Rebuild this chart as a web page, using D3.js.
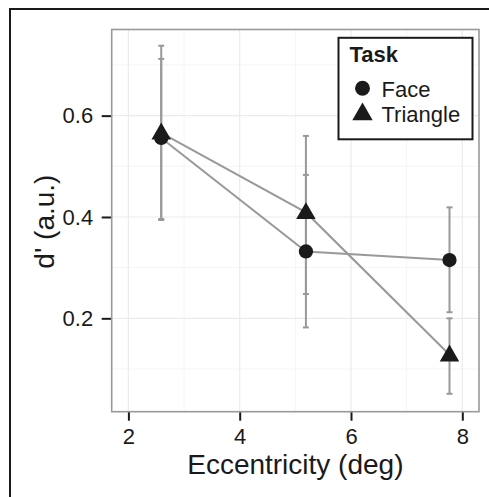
<!DOCTYPE html>
<html>
<head>
<meta charset="utf-8">
<script src="https://cdn.jsdelivr.net/npm/d3@7"></script>
<style>
  body { margin: 0; background: #fff; }
  svg text { font-family: "Liberation Sans", Arial, sans-serif; }
</style>
</head>
<body>
<div id="chart"></div>
<script>
// data
const tasks = ["Face", "Triangle"];
const eccentricity = [2.59, 5.19, 7.77];
const faceMean = [0.556, 0.332, 0.315];
const faceLow = [0.396, 0.182, 0.212];
const faceHigh = [0.712, 0.483, 0.419];
const triMean = [0.566, 0.409, 0.128];
const triLow = [0.394, 0.248, 0.051];
const triHigh = [0.738, 0.560, 0.200];
const xTicks = [2, 4, 6, 8];
const yTicks = [0.2, 0.4, 0.6];
const xMinor = [3, 5, 7];
const yMinor = [0.1, 0.3, 0.5, 0.7];

const W = 489, H = 497;
const margin = { top: 29.5, right: 10, bottom: 85.3, left: 111.7 },
  width = W - margin.left - margin.right,
  height = H - margin.top - margin.bottom;

const root = d3.select("#chart")
  .append("svg")
  .attr("width", W)
  .attr("height", H);

// outer frame (only top and left edges visible in the crop)
root.append("path")
  .attr("d", `M10,${H} L10,9 L${W},9`)
  .attr("fill", "none")
  .attr("stroke", "#1a1a1a")
  .attr("stroke-width", 2);

const svg = root.append("g")
  .attr("transform", `translate(${margin.left}, ${margin.top})`);

const x = d3.scaleLinear().domain([1.7, 8.3]).range([0, width]);
const y = d3.scaleLinear().domain([0.0157, 0.770]).range([height, 0]);

// grid
svg.selectAll(".gxm").data(xMinor).join("line")
  .attr("x1", d => x(d)).attr("x2", d => x(d))
  .attr("y1", 0).attr("y2", height)
  .attr("stroke", "#f5f5f5").attr("stroke-width", 1);
svg.selectAll(".gym").data(yMinor).join("line")
  .attr("y1", d => y(d)).attr("y2", d => y(d))
  .attr("x1", 0).attr("x2", width)
  .attr("stroke", "#f5f5f5").attr("stroke-width", 1);
svg.selectAll(".gx").data(xTicks).join("line")
  .attr("x1", d => x(d)).attr("x2", d => x(d))
  .attr("y1", 0).attr("y2", height)
  .attr("stroke", "#ebebeb").attr("stroke-width", 1.2);
svg.selectAll(".gy").data(yTicks).join("line")
  .attr("y1", d => y(d)).attr("y2", d => y(d))
  .attr("x1", 0).attr("x2", width)
  .attr("stroke", "#ebebeb").attr("stroke-width", 1.2);

// axes
const xAxis = svg.append("g")
  .attr("transform", `translate(0, ${height})`)
  .call(d3.axisBottom(x).tickValues(xTicks).tickFormat(d3.format("d")).tickSize(9).tickPadding(7.5));
const yAxis = svg.append("g")
  .call(d3.axisLeft(y).tickValues(yTicks).tickFormat(d3.format(".1f")).tickSize(10).tickPadding(8.5));
[xAxis, yAxis].forEach(a => {
  a.select(".domain").remove();
  a.selectAll(".tick line").attr("stroke", "#1a1a1a").attr("stroke-width", 2);
  a.selectAll(".tick text").attr("fill", "#1a1a1a").style("font-size", "22px");
});

// panel border
svg.append("rect")
  .attr("width", width).attr("height", height)
  .attr("fill", "none").attr("stroke", "#999").attr("stroke-width", 1.6);

// axis titles
svg.append("text")
  .attr("x", width / 2).attr("y", height + 62.5)
  .attr("text-anchor", "middle")
  .attr("fill", "#1a1a1a")
  .style("font-size", "28px")
  .text("Eccentricity (deg)");
svg.append("text")
  .attr("transform", `translate(${54 - margin.left}, ${height / 2 + 1}) rotate(-90)`)
  .attr("text-anchor", "middle")
  .attr("fill", "#1a1a1a")
  .style("font-size", "28px")
  .text("d' (a.u.)");

const series = [
  { key: "Face", mean: faceMean, low: faceLow, high: faceHigh, shape: d3.symbolCircle, size: 160 },
  { key: "Triangle", mean: triMean, low: triLow, high: triHigh, shape: d3.symbolTriangle, size: 165 }
];

const line = d3.line().x(d => x(d.x)).y(d => y(d.y));
const grey = "#999";

series.forEach(s => {
  const pts = eccentricity.map((e, i) => ({ x: e, y: s.mean[i], lo: s.low[i], hi: s.high[i] }));
  // error bars
  const g = svg.append("g");
  g.selectAll(".eb").data(pts).join("line")
    .attr("x1", d => x(d.x)).attr("x2", d => x(d.x))
    .attr("y1", d => y(d.lo)).attr("y2", d => y(d.hi))
    .attr("stroke", grey).attr("stroke-width", 2);
  ["lo", "hi"].forEach(k => {
    g.selectAll(".cap" + k).data(pts).join("line")
      .attr("x1", d => x(d.x) - 3).attr("x2", d => x(d.x) + 3)
      .attr("y1", d => y(d[k])).attr("y2", d => y(d[k]))
      .attr("stroke", grey).attr("stroke-width", 2);
  });
  g.append("path").datum(pts)
    .attr("d", line)
    .attr("fill", "none").attr("stroke", grey).attr("stroke-width", 2);
});

series.forEach(s => {
  svg.append("g").selectAll("path").data(eccentricity.map((e, i) => ({ x: e, y: s.mean[i] })))
    .join("path")
    .attr("transform", d => `translate(${x(d.x)}, ${y(d.y) + (s.key === "Triangle" ? 1 : 0)})`)
    .attr("d", d3.symbol().type(s.shape).size(s.size))
    .attr("fill", "#1a1a1a");
});

// legend
const lg = root.append("g").attr("transform", "translate(338.5, 37.8)");
lg.append("rect")
  .attr("width", 134).attr("height", 101.5)
  .attr("fill", "#fff").attr("stroke", "#1a1a1a").attr("stroke-width", 2);
lg.append("text")
  .attr("x", 11).attr("y", 24.5)
  .attr("fill", "#1a1a1a")
  .style("font-size", "22px").style("font-weight", "bold")
  .text("Task");
series.forEach((s, i) => {
  lg.append("path")
    .attr("transform", `translate(24, ${50.5 + i * 26})`)
    .attr("d", d3.symbol().type(s.shape).size(s.size + 15))
    .attr("fill", "#1a1a1a");
  lg.append("text")
    .attr("x", 43).attr("y", 59 + i * 25.6)
    .attr("fill", "#1a1a1a")
    .style("font-size", "22px")
    .text(tasks[i]);
});
</script>
</body>
</html>
